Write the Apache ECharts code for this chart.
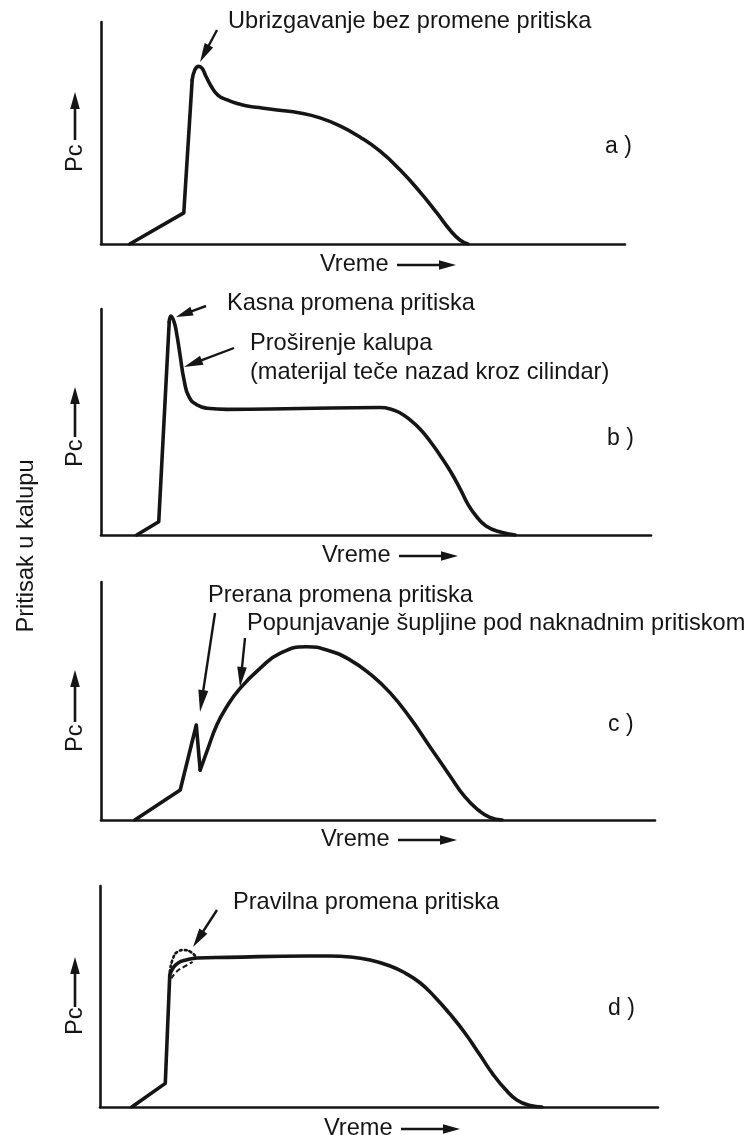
<!DOCTYPE html>
<html>
<head>
<meta charset="utf-8">
<script src="https://cdn.jsdelivr.net/npm/echarts@6/dist/echarts.min.js"></script>
<style>
  html, body { margin: 0; padding: 0; background: #fff; }
  #chart { width: 753px; height: 1135px; }
</style>
</head>
<body>
<div id="chart"></div>
<script>
// Cavity pressure p_c over time for four injection moulding cases.
// Units are arbitrary: time 0–100 across each axis, pressure 0–100 up each axis.

// a) injection without pressure switchover
const fillA = [[5.5, 0], [15.8, 14.0], [17.4, 73.9]];
const holdA = [[17.4, 73.9], [17.9, 78.4], [18.6, 80.0], [19.3, 79.1], [20.0, 75.7], [21.0, 71.2],
  [22.3, 67.1], [24.1, 64.9], [26.0, 63.3], [27.9, 62.2], [30.7, 61.3], [33.6, 60.4], [38.0, 59.0],
  [41.8, 56.8], [45.6, 53.2], [49.4, 48.2], [53.2, 41.9], [57.1, 33.3], [60.9, 23.4], [64.1, 14.0],
  [66.6, 6.3], [68.5, 1.8], [70.0, 0]];

// b) late switchover, mould breathing
const fillB = [[6.5, 0], [10.5, 5.9], [12.4, 94.2]];
const holdB = [[12.4, 94.2], [12.7, 96.9], [13.3, 94.2], [13.8, 88.5], [14.4, 79.2], [15.1, 68.6],
  [16.0, 61.1], [17.5, 57.5], [19.3, 56.1], [22.9, 55.6], [36.2, 56.0], [50.7, 56.4], [52.6, 55.8],
  [54.4, 54.0], [56.2, 50.9], [58.0, 46.9], [59.8, 41.6], [61.6, 35.4], [63.5, 28.3], [65.3, 20.4],
  [66.7, 13.7], [68.2, 8.4], [70.0, 4.0], [72.6, 1.3], [75.3, 0]];

// c) premature switchover, cavity filled under holding pressure
const fillC = [[6.1, 0], [14.3, 12.6], [17.2, 39.9], [17.9, 21.0]];
const holdC = [[17.9, 21.0], [19.1, 28.7], [20.9, 39.9], [22.7, 47.6], [25.1, 55.3], [28.7, 63.7],
  [32.3, 70.0], [37.1, 72.8], [41.3, 71.0], [45.0, 67.2], [48.6, 61.3], [52.2, 53.4], [55.8, 42.9],
  [59.4, 30.7], [63.0, 18.5], [65.7, 9.7], [68.1, 4.2], [70.2, 1.1], [72.4, 0]];

// d) correct switchover, with the overshoot / undershoot variants around the corner
const fillD = [[5.7, 0], [11.7, 10.7], [12.5, 59.7]];
const holdD = [[12.5, 59.7], [13.1, 62.9], [14.0, 65.2], [15.4, 66.5], [17.4, 67.4], [22.8, 67.7],
  [37.1, 68.3], [41.2, 68.3], [44.8, 67.9], [48.4, 66.5], [52.0, 63.8], [54.7, 60.6], [57.4, 56.1],
  [60.0, 49.8], [62.7, 42.1], [65.4, 33.5], [68.1, 23.5], [70.4, 14.9], [72.6, 8.1], [74.7, 3.2],
  [77.1, 0.7], [79.2, 0]];
const overshootD = [[12.5, 61.0], [13.1, 67.4], [14.0, 70.4], [15.1, 71.0], [16.3, 70.1], [17.2, 67.9]];
const undershootD = [[12.8, 58.2], [13.7, 61.2], [15.1, 63.5], [16.6, 65.7]];

// Texts
const panelLetters = ['a )', 'b )', 'c )', 'd )'];
const timeLabel = 'Vreme';
const pressureLabel = 'Pc';
const sideTitle = 'Pritisak u kalupu';
const notes = [
  'Ubrizgavanje bez promene pritiska',
  'Kasna promena pritiska',
  'Proširenje kalupa',
  '(materijal teče nazad kroz cilindar)',
  'Prerana promena pritiska',
  'Popunjavanje šupljine pod naknadnim pritiskom',
  'Pravilna promena pritiska'
];

// ---- layout ----
const INK = '#151515';
const FONT = '"Liberation Sans", Arial, Helvetica, sans-serif';
const FS = 23.6;
const grids = [
  { left: 101, top: 22, width: 524, height: 222 },
  { left: 101, top: 309, width: 550, height: 226 },
  { left: 101, top: 582, width: 554, height: 238 },
  { left: 100, top: 886, width: 558, height: 221 }
];

function axis(i) {
  return {
    type: 'value', gridIndex: i, min: 0, max: 100,
    axisLine: { show: true, onZero: false, lineStyle: { color: INK, width: 2.6 } },
    axisTick: { show: false }, axisLabel: { show: false }, splitLine: { show: false }
  };
}

function curve(i, data, extra) {
  return Object.assign({
    type: 'line', xAxisIndex: i, yAxisIndex: i, data: data,
    symbol: 'none', silent: true, animation: false, smooth: false,
    lineStyle: { color: INK, width: 3.6, cap: 'round', join: 'round' }
  }, extra || {});
}

const smoothBody = { smooth: 0.5 };

const series = [
  curve(0, fillA), curve(0, holdA, smoothBody),
  curve(1, fillB), curve(1, holdB, smoothBody),
  curve(2, fillC), curve(2, holdC, smoothBody),
  curve(3, fillD), curve(3, holdD, smoothBody),
  curve(3, overshootD, { smooth: 0.5, lineStyle: { color: INK, width: 2.6, type: [2, 3], cap: 'round' } }),
  curve(3, undershootD, { smooth: 0.5, lineStyle: { color: INK, width: 2, type: [5, 3] } })
];

// ---- annotation graphics ----
function text(str, x, y, opt) {
  opt = opt || {};
  return {
    type: 'text', x: x, y: y, rotation: opt.rotation || 0, silent: true,
    style: {
      text: str, x: 0, y: 0, fill: INK,
      font: (opt.size || FS) + 'px ' + FONT,
      align: opt.align || 'left', verticalAlign: 'middle',
      textAlign: opt.align || 'left', textVerticalAlign: 'middle'
    }
  };
}

function arrow(x1, y1, x2, y2, headLen, headHalf, width) {
  const dx = x2 - x1, dy = y2 - y1, len = Math.hypot(dx, dy);
  const ux = dx / len, uy = dy / len, px = -uy, py = ux;
  const bx = x2 - ux * headLen, by = y2 - uy * headLen;
  return [
    { type: 'line', silent: true, shape: { x1: x1, y1: y1, x2: bx + ux * 2, y2: by + uy * 2 },
      style: { stroke: INK, lineWidth: width } },
    { type: 'polygon', silent: true,
      shape: { points: [[x2, y2], [bx + px * headHalf, by + py * headHalf], [bx - px * headHalf, by - py * headHalf]] },
      style: { fill: INK } }
  ];
}

// "Vreme ->" under each x axis and "Pc ->" beside each y axis
const timeRows = [[320, 264], [322, 555], [321, 839], [324, 1128]];
const pressureCols = [[172, 140, 92], [467, 437, 387], [752, 722, 670], [1035, 1007, 957]];
const letterPos = [[605, 147], [607, 439], [608, 725], [608, 1009]];

let elements = [];
timeRows.forEach(function (r) {
  elements.push(text(timeLabel, r[0], r[1]));
  elements = elements.concat(arrow(r[0] + 77, r[1] + 1, r[0] + 136, r[1] + 1, 17, 4.8, 2.6));
});
pressureCols.forEach(function (c) {
  elements.push(text(pressureLabel, 75, c[0], { rotation: Math.PI / 2 }));
  elements = elements.concat(arrow(75, c[1], 75, c[2], 17, 4.8, 2.6));
});
letterPos.forEach(function (p, i) {
  elements.push(text(panelLetters[i], p[0], p[1], { size: 23 }));
});
elements.push(text(sideTitle, 26, 546, { rotation: Math.PI / 2, align: 'center' }));

// callouts
elements.push(text(notes[0], 228, 21));
elements = elements.concat(arrow(217, 30, 200, 62, 19, 4.8, 2.4));

elements.push(text(notes[1], 227, 303));
elements = elements.concat(arrow(206, 306, 176, 317, 17, 4.6, 2.4));
elements.push(text(notes[2], 250, 343));
elements.push(text(notes[3], 250, 372));
elements = elements.concat(arrow(234, 348, 184, 367, 19, 4.8, 2.4));

elements.push(text(notes[4], 208, 595));
elements.push(text(notes[5], 247, 623));
elements = elements.concat(arrow(215, 613, 200, 712, 22, 5, 2.4));
elements = elements.concat(arrow(245, 638, 240, 687, 20, 4.8, 2.4));

elements.push(text(notes[6], 233, 902));
elements = elements.concat(arrow(217, 910, 193, 947, 19, 4.8, 2.4));

const chart = echarts.init(document.getElementById('chart'), null, { renderer: 'canvas' });
chart.setOption({
  backgroundColor: '#ffffff',
  animation: false,
  grid: grids,
  xAxis: grids.map(function (g, i) { return axis(i); }),
  yAxis: grids.map(function (g, i) { return axis(i); }),
  series: series,
  graphic: { elements: elements }
});
</script>
</body>
</html>
